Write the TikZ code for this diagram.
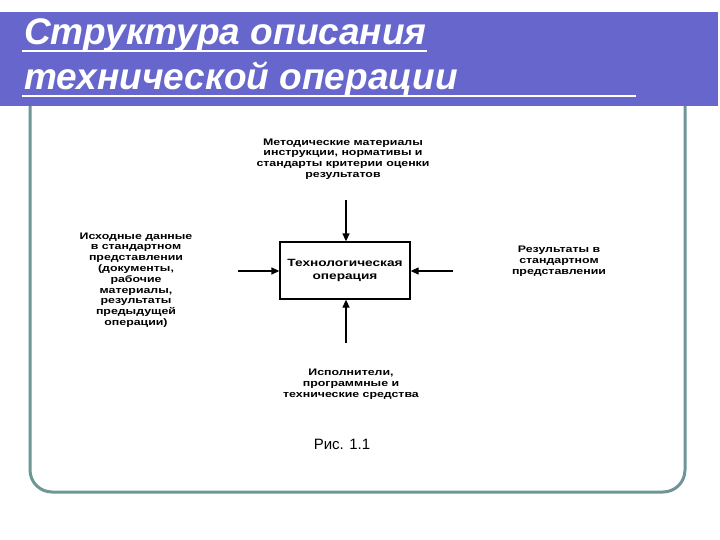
\documentclass[tikz,border=0pt]{standalone}
\usepackage{fontspec}
\setmainfont{Liberation Sans}
\newfontfamily\widefont[FakeStretch=1.3]{Liberation Sans}
\usetikzlibrary{arrows.meta}
\begin{document}
\begin{tikzpicture}[x=1pt,y=-1pt,
  lbl/.style={font=\widefont\fontsize{9.5}{10.8}\selectfont\bfseries, align=center},
  ttl/.style={anchor=base west, text=white, font=\fontsize{37}{38}\selectfont\bfseries\itshape, inner sep=0},
  arr/.style={line width=1.3pt,-{Triangle[length=8pt,width=7pt]}}]
\useasboundingbox (0,0) rectangle (720,540);
\fill[white] (0,0) rectangle (720,540);
\draw[line width=3pt, color={rgb,255:red,110;green,150;blue,150}, rounded corners=22pt]
  (30,100) -- (30,492) -- (685,492) -- (685,100);
\fill[color={rgb,255:red,102;green,102;blue,204}] (0,12) rectangle (718,106);
\node[ttl] (t1) at (24,45) {Структура описания};
\node[ttl] (t2) at (24,90) {технической операции};
\draw[white, line width=1.5pt] (22,51) -- (t1.east |- 0,51);
\draw[white, line width=1.5pt] (22,96) -- (636,96);
\node[draw, line width=1.3pt, minimum width=130pt, minimum height=57pt, font=\widefont\fontsize{10.5}{13}\selectfont\bfseries, align=center] (op) at (345,270.5) {Технологическая\\операция};
\coordinate (ti) at (346,200);
\coordinate (li) at (238,271);
\coordinate (ri) at (453,271);
\coordinate (bi) at (346,343);
\draw[arr] (ti) -- (ti |- op.north);
\draw[arr] (li) -- (li -| op.west);
\draw[arr] (ri) -- (ri -| op.east);
\draw[arr] (bi) -- (bi |- op.south);
\node[lbl] (m) at (343,159) {Методические материалы\\инструкции, нормативы и\\стандарты критерии оценки\\результатов};
\node[lbl] (l) at (136,280) {Исходные данные\\в стандартном\\представлении\\(документы,\\рабочие\\материалы,\\результаты\\предыдущей\\операции)};
\node[lbl] (r) at (559,261) {Результаты в\\стандартном\\представлении};
\node[lbl] (b) at (351,384) {Исполнители,\\программные и\\технические средства};
\node[font=\fontsize{15}{17}\selectfont] (fig) at (342,444) {Рис. 1.1};
\end{tikzpicture}
\end{document}
